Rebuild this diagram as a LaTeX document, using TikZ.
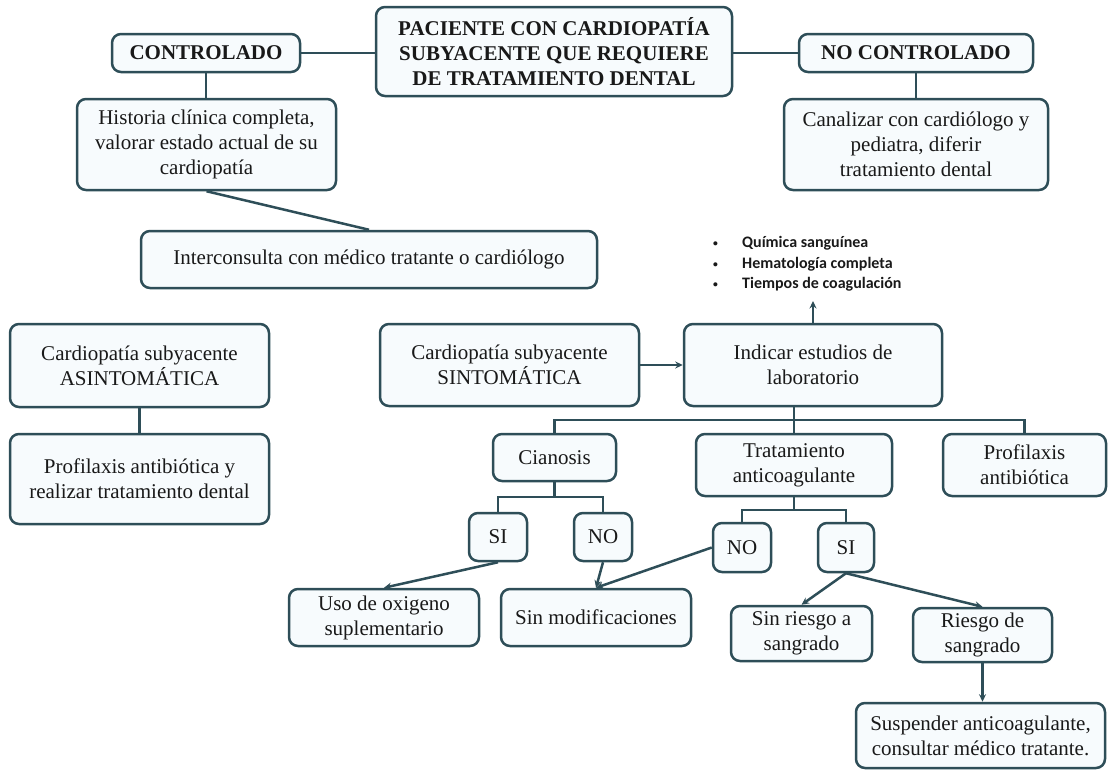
\documentclass[tikz,border=0pt]{standalone}
\usepackage{fontspec}
\setmainfont{Liberation Serif}
\newfontfamily\bulletfont{Carlito}
\usetikzlibrary{arrows.meta}
\definecolor{bordc}{RGB}{46,78,88}
\definecolor{fillc}{RGB}{247,251,253}
\definecolor{txtc}{RGB}{25,25,25}
\newcommand{\smallbul}{\makebox[29pt][l]{\raisebox{1pt}{\scalebox{0.6}{•}}}}
\begin{document}
\begin{tikzpicture}[x=1pt,y=-1pt,
  box/.style={draw=bordc, line width=2.5pt, fill=fillc, rounded corners=9pt, align=center,
    inner sep=0pt, text=txtc, font=\fontsize{21}{25}\selectfont},
  boldbox/.style={box, font=\fontsize{21}{25}\selectfont\bfseries},
  wh/.style 2 args={minimum width=#1pt, minimum height=#2pt},
  conn/.style={draw=bordc, line width=2.5pt},
  arr/.style={conn, -{Stealth[length=7.5pt,width=7pt]}},
  listtext/.style={inner sep=0pt, align=left, text=txtc, font=\bulletfont\bfseries\fontsize{16}{20.5}\selectfont}
]
\useasboundingbox (0,0) rectangle (1109,771);

% top level
\node[boldbox, wh={356}{89}] (main) at (554,51.5) {PACIENTE CON CARDIOPATÍA\\SUBYACENTE QUE REQUIERE\\DE TRATAMIENTO DENTAL};
\node[boldbox, wh={188}{38}] (ctrl) at (206,53) {CONTROLADO};
\node[boldbox, wh={234}{38}] (noctrl) at (916,53) {NO CONTROLADO};
\node[box, wh={259}{91}] (hist) at (206.5,144.5) {Historia clínica completa,\\valorar estado actual de su\\cardiopatía};
\node[box, wh={264}{91}] (canal) at (916,144.5) {Canalizar con cardiólogo y\\pediatra, diferir\\tratamiento dental};
\node[box, wh={456}{57}] (inter) at (369,259.5) {Interconsulta con médico tratante o cardiólogo};

% left column
\node[box, wh={259}{83}] (asint) at (139.5,365.5) {Cardiopatía subyacente\\ASINTOMÁTICA};
\node[box, wh={259}{90}] (profa) at (139.5,479) {Profilaxis antibiótica y\\realizar tratamiento dental};

% middle
\node[box, wh={259}{82}] (sint) at (509.5,365) {Cardiopatía subyacente\\SINTOMÁTICA};
\node[box, wh={258}{82}] (indic) at (813,365) {Indicar estudios de\\laboratorio};
\node[listtext, anchor=west] (labs) at (713,264) {\smallbul Química sanguínea\\\smallbul Hematología completa\\\smallbul Tiempos de coagulación};
\coordinate (labtip) at (813,301);

\node[box, wh={123}{47}] (cian) at (554.5,457.5) {Cianosis};
\node[box, wh={196}{62}] (trat) at (794,465) {Tratamiento\\anticoagulante};
\node[box, wh={163}{62}] (profb) at (1024.5,465) {Profilaxis\\antibiótica};

\node[box, wh={58}{48}] (si1) at (498,537) {SI};
\node[box, wh={58}{48}] (no1) at (603,537) {NO};
\node[box, wh={58}{49}] (no2) at (742,547.5) {NO};
\node[box, wh={56}{49}] (si2) at (846,547.5) {SI};

\node[box, wh={190}{57}] (uso) at (384,617.5) {Uso de oxigeno\\suplementario};
\node[box, wh={190}{57}] (sinmod) at (596,617.5) {Sin modificaciones};
\node[box, wh={141}{55}] (sinr) at (801.5,633.5) {Sin riesgo a\\sangrado};
\node[box, wh={139}{54}] (riesgo) at (982.5,635) {Riesgo de\\sangrado};
\node[box, wh={249}{65}] (susp) at (980.5,735.5) {Suspender anticoagulante,\\consultar médico tratante.};

% connectors
\draw[conn] (ctrl.east) -- (ctrl.east -| main.west);
\draw[conn] (noctrl.west) -- (noctrl.west -| main.east);
\draw[conn] (ctrl.south) -- (ctrl.south |- hist.north);
\draw[conn] (noctrl.south) -- (noctrl.south |- canal.north);
\draw[conn] (hist.south) -- (inter.north);
\draw[conn] (asint.south) -- (profa.north);
\draw[arr] (sint.east) -- (indic.west);
\draw[arr] (indic.north) -- (labtip);

\draw[conn] (indic.south -| trat.north) -- (trat.north);
\draw[conn] (cian.north) -- ++(0,-13) -| (profb.north);
\draw[conn] (cian.south) -- ++(0,15);
\draw[conn] (si1.north) -- ++(0,-15) -| (no1.north);
\draw[conn] (trat.south) -- ++(0,13);
\draw[conn] (no2.north) -- ++(0,-12) -| (si2.north);

\draw[arr] (si1.south) -- (uso.north);
\draw[arr] (no1.south) -- (sinmod.north);
\draw[arr] (no2.west) -- (sinmod.north);
\draw[arr] (si2.south) -- (sinr.north);
\draw[arr] (si2.south) -- (riesgo.north);
\draw[arr] (riesgo.south) -- (riesgo.south |- susp.north);
\end{tikzpicture}
\end{document}
